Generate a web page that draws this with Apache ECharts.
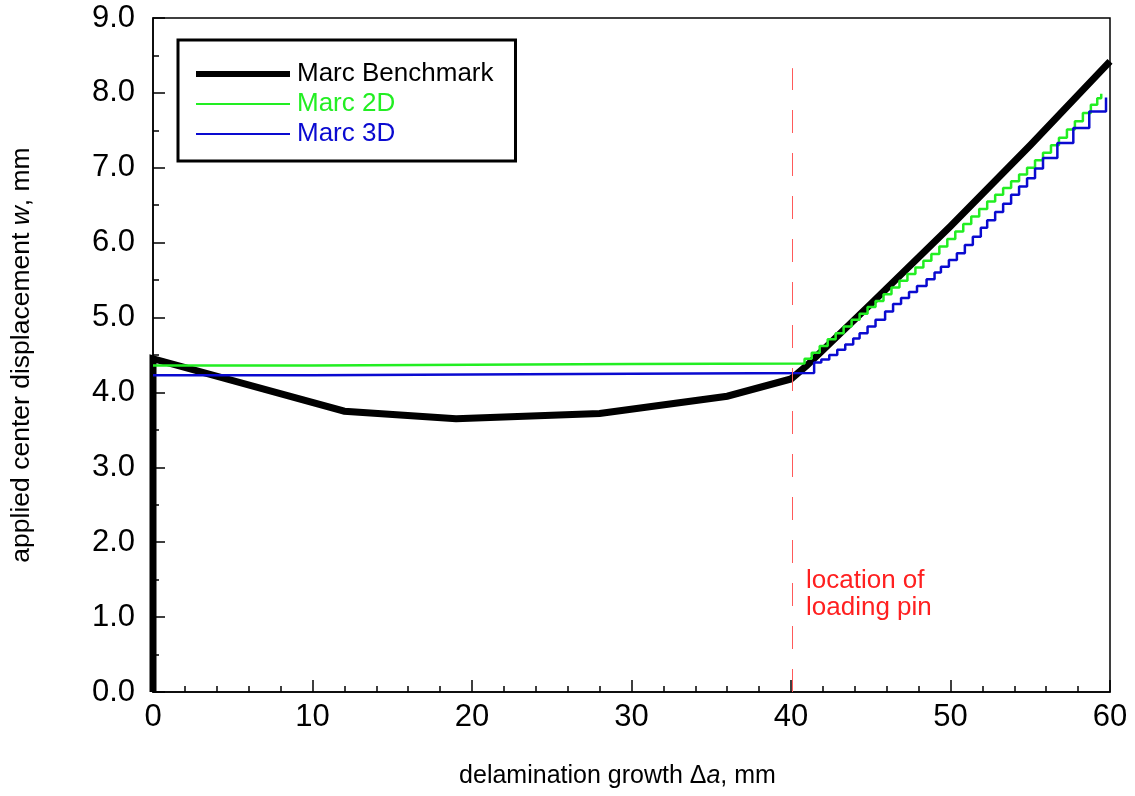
<!DOCTYPE html>
<html>
<head>
<meta charset="utf-8">
<script src="https://cdn.jsdelivr.net/npm/echarts@6/dist/echarts.min.js"></script>
<style>
  html, body { margin: 0; padding: 0; background: #fff; }
  #chart { width: 1135px; height: 796px; }
</style>
</head>
<body>
<div id="chart"></div>
<script>
// Applied center displacement w (mm) vs delamination growth Δa (mm)
const benchmark = [
  [0, 0], [0, 4.45], [12, 3.75], [19, 3.65], [28, 3.72], [36, 3.95],
  [40, 4.18], [41, 4.36], [45, 5.18], [50, 6.22], [55, 7.30], [60, 8.42]
];

// Marc 2D: flat plateau, then a staircase (step points: start of each tread)
const marc2d = [
  [0, 4.36], [10, 4.37], [20, 4.38], [30, 4.385], [40.85, 4.39],
  [40.85, 4.45], [41.3, 4.53], [41.8, 4.62], [42.3, 4.71], [42.8, 4.79],
  [43.3, 4.88], [43.8, 4.97], [44.3, 5.05], [44.8, 5.14], [45.3, 5.22],
  [45.8, 5.31], [46.3, 5.40], [46.8, 5.49], [47.3, 5.58], [47.8, 5.67],
  [48.3, 5.76], [48.8, 5.85], [49.3, 5.95], [49.8, 6.05], [50.3, 6.15],
  [50.8, 6.25], [51.3, 6.35], [51.8, 6.45], [52.3, 6.55], [52.8, 6.64],
  [53.3, 6.73], [53.8, 6.82], [54.3, 6.91], [54.8, 7.00], [55.3, 7.10],
  [55.8, 7.20], [56.3, 7.30], [56.8, 7.40], [57.3, 7.51], [57.8, 7.62],
  [58.3, 7.73], [58.8, 7.84], [59.2, 7.93], [59.45, 7.99]
];

// Marc 3D: flat plateau, then a staircase with coarser treads near the end
const marc3d = [
  [0, 4.23], [10, 4.24], [20, 4.25], [30, 4.26], [41.45, 4.27],
  [41.45, 4.40], [41.9, 4.44], [42.4, 4.50], [42.9, 4.57], [43.4, 4.64],
  [43.9, 4.72], [44.3, 4.79], [44.8, 4.88], [45.3, 4.97], [45.9, 5.08],
  [46.4, 5.18], [46.9, 5.26], [47.4, 5.34], [47.9, 5.42], [48.5, 5.51],
  [49.0, 5.60], [49.4, 5.68], [49.9, 5.77], [50.4, 5.86], [50.9, 5.97],
  [51.4, 6.08], [51.9, 6.20], [52.3, 6.30], [52.8, 6.41], [53.3, 6.52],
  [53.8, 6.64], [54.3, 6.75], [54.8, 6.86], [55.3, 6.99], [55.8, 7.13],
  [56.7, 7.33], [57.7, 7.53], [58.7, 7.75], [59.75, 7.94]
];

const pinLocation = 40.1;      // loading pin position, mm
const pinLineTop = 8.33;
const xTicks = [0, 10, 20, 30, 40, 50, 60];
const yTicks = ['0.0', '1.0', '2.0', '3.0', '4.0', '5.0', '6.0', '7.0', '8.0', '9.0'];

const FONT = '"Liberation Sans", Arial, Helvetica, sans-serif';
const GREEN = '#22ee22';
const BLUE = '#0a0ad0';

// legend swatches: horizontal bars, thick for the benchmark, thin for the models
const thickBar = 'path://M0,0 H94 V6 H0 Z';
const thinBar = 'path://M0,0 H94 V2 H0 Z';

const chart = echarts.init(document.getElementById('chart'), null, { renderer: 'canvas' });

chart.setOption({
  animation: false,
  backgroundColor: '#ffffff',
  grid: {
    left: 152, right: 25, top: 18, bottom: 104,
    show: true, borderColor: '#000', borderWidth: 1.5, backgroundColor: 'transparent'
  },
  legend: {
    orient: 'vertical',
    left: 178, top: 40,
    padding: [21, 22, 14, 18],
    borderColor: '#000', borderWidth: 3,
    itemWidth: 94, itemHeight: 22, itemGap: 4,
    symbolKeepAspect: true,
    textStyle: { fontFamily: FONT, fontSize: 26, padding: [0, 0, 0, 2] },
    data: [
      { name: 'Marc Benchmark', icon: thickBar, itemStyle: { color: '#000' }, textStyle: { color: '#000' } },
      { name: 'Marc 2D', icon: thinBar, itemStyle: { color: GREEN }, textStyle: { color: GREEN } },
      { name: 'Marc 3D', icon: thinBar, itemStyle: { color: BLUE }, textStyle: { color: BLUE } }
    ]
  },
  xAxis: {
    type: 'value', min: 0, max: 60, interval: 10,
    name: 'delamination growth Δ{i|a}, mm',
    nameLocation: 'middle', nameGap: 72,
    nameTextStyle: {
      fontFamily: FONT, fontSize: 25, color: '#000', padding: [0, 28, 0, 0],
      rich: { i: { fontFamily: FONT, fontSize: 25, fontStyle: 'italic', color: '#000' } }
    },
    axisLine: { show: true, lineStyle: { color: '#000', width: 1.5 } },
    axisTick: { show: true, inside: true, length: 12, lineStyle: { color: '#000', width: 1.5 } },
    minorTick: { show: true, splitNumber: 5, length: 6, lineStyle: { color: '#000', width: 1.5 } },
    splitLine: { show: false },
    axisLabel: {
      margin: 10, fontFamily: FONT, fontSize: 31, color: '#000',
      formatter: v => (xTicks.includes(v) ? String(v) : '')
    }
  },
  yAxis: {
    type: 'value', min: 0, max: 9, interval: 1,
    name: 'applied center displacement {i|w}, mm',
    nameLocation: 'middle', nameGap: 118, nameRotate: 90,
    nameTextStyle: {
      fontFamily: FONT, fontSize: 26.5, color: '#000',
      rich: { i: { fontFamily: FONT, fontSize: 26.5, fontStyle: 'italic', color: '#000' } }
    },
    axisLine: { show: true, lineStyle: { color: '#000', width: 1.5 } },
    axisTick: { show: true, inside: true, length: 12, lineStyle: { color: '#000', width: 1.5 } },
    minorTick: { show: true, splitNumber: 2, length: 6, lineStyle: { color: '#000', width: 1.5 } },
    splitLine: { show: false },
    axisLabel: {
      margin: 18, fontFamily: FONT, fontSize: 31, color: '#000',
      formatter: v => yTicks[Math.round(v)] ?? ''
    }
  },
  series: [
    {
      name: 'Marc 2D', type: 'line', data: marc2d, step: 'end',
      symbol: 'none', clip: false, z: 3,
      lineStyle: { color: GREEN, width: 2.5 }, itemStyle: { color: GREEN }
    },
    {
      name: 'Marc 3D', type: 'line', data: marc3d, step: 'end',
      symbol: 'none', clip: false, z: 3,
      lineStyle: { color: BLUE, width: 2.5 }, itemStyle: { color: BLUE }
    },
    {
      name: 'Marc Benchmark', type: 'line', data: benchmark,
      symbol: 'none', clip: false, z: 2,
      lineStyle: { color: '#000', width: 7, join: 'miter' }, itemStyle: { color: '#000' },
      markLine: {
        silent: true, symbol: 'none',
        label: { show: false },
        lineStyle: { color: '#ff5a5a', width: 1, type: [23, 20] },
        data: [[{ coord: [pinLocation, 0] }, { coord: [pinLocation, pinLineTop] }]]
      }
    }
  ],
  graphic: [
    {
      type: 'text', left: 806, top: 567, z: 10,
      style: {
        text: 'location of\nloading pin',
        font: '26px ' + FONT, fill: '#ff2020', lineHeight: 27
      }
    }
  ]
});
</script>
</body>
</html>
